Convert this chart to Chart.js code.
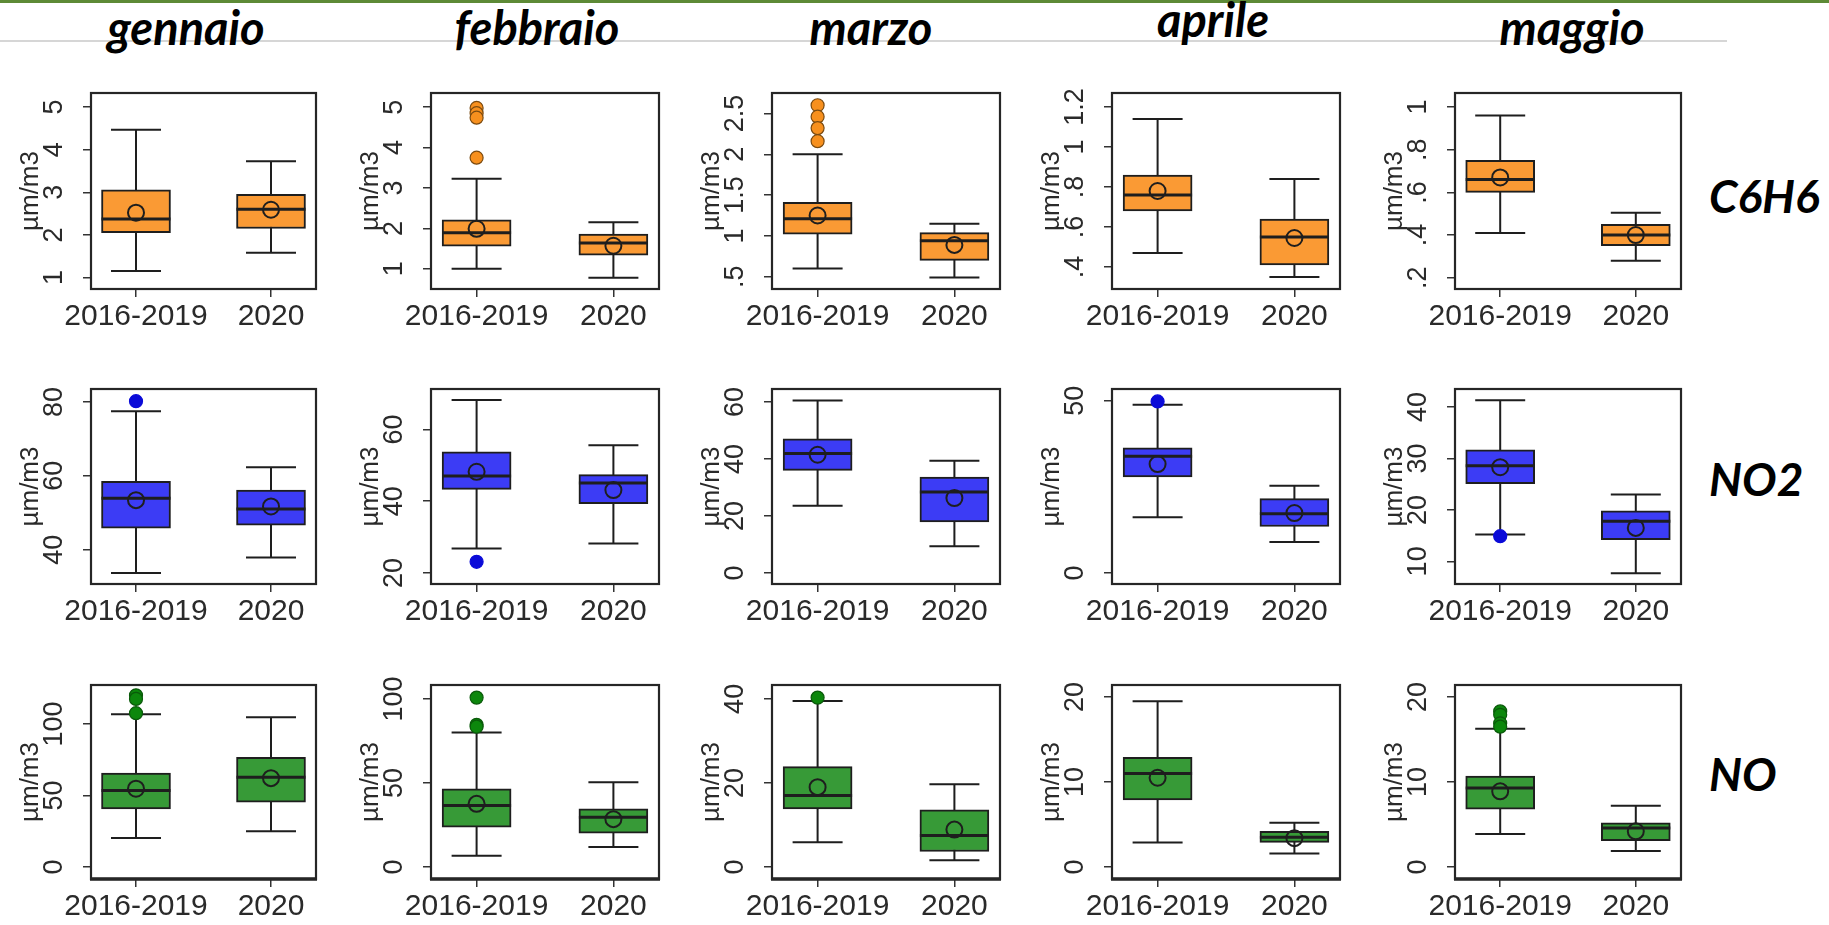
<!DOCTYPE html>
<html lang="it">
<head>
<meta charset="utf-8">
<title>C6H6, NO2, NO — gennaio-maggio: 2016-2019 vs 2020</title>
<script src="https://cdn.jsdelivr.net/npm/chart.js@4.4.1/dist/chart.umd.min.js"></script>
<style>
  html, body { margin: 0; padding: 0; background: #ffffff; overflow: hidden; }
  #page { position: relative; width: 1829px; height: 925px; background: #ffffff; }
  .topbar { position: absolute; left: 0; top: 0; width: 1829px; height: 3px; background: #5d8a36; }
  .rule { position: absolute; left: 0; top: 40px; width: 1727px; height: 2px; background: #d6d6d6; }
  .month, .species {
    position: absolute; font-family: "Lato", "Open Sans", sans-serif; font-weight: 700;
    font-style: italic; color: #000; white-space: nowrap; line-height: 1;
  }
  .month { font-size: 47px; transform: translateX(-50%); }
  .species { font-size: 46px; }
  canvas.panel { position: absolute; }
</style>
</head>
<body>
<div id="page">
  <div class="topbar"></div>
  <div class="rule"></div>
</div>
<script>
// ---- categories ----
const months = ['gennaio', 'febbraio', 'marzo', 'aprile', 'maggio'];
const groups = ['2016-2019', '2020'];
const pollutants = ['C6H6', 'NO2', 'NO'];
const unitLabel = 'µm/m3';

// ---- C6H6: per month, [2016-2019, 2020] ----
const c6h6Low    = [[1.15, 1.58], [1.00, 0.78], [0.60, 0.49], [0.47, 0.35], [0.41, 0.28]];
const c6h6Q1     = [[2.05, 2.15], [1.56, 1.34], [1.02, 0.70], [0.68, 0.41], [0.60, 0.35]];
const c6h6Median = [[2.37, 2.60], [1.89, 1.64], [1.21, 0.94], [0.76, 0.55], [0.66, 0.40]];
const c6h6Q3     = [[3.06, 2.95], [2.21, 1.86], [1.41, 1.04], [0.86, 0.64], [0.75, 0.45]];
const c6h6High   = [[4.47, 3.73], [3.23, 2.15], [2.00, 1.15], [1.14, 0.84], [0.96, 0.505]];
const c6h6Mean   = [[2.52, 2.59], [1.99, 1.57], [1.25, 0.89], [0.78, 0.545], [0.67, 0.40]];
const c6h6Outliers = [[[], []], [[4.98, 4.85, 4.74, 3.75], []], [[2.60, 2.46, 2.32, 2.16], []], [[], []], [[], []]];
const c6h6YRange = [[0.73, 5.33], [0.50, 5.35], [0.35, 2.75], [0.29, 1.27], [0.147, 1.066]];
const c6h6Ticks = [[1, 2, 3, 4, 5], [1, 2, 3, 4, 5], [0.5, 1, 1.5, 2, 2.5], [0.4, 0.6, 0.8, 1, 1.2], [0.2, 0.4, 0.6, 0.8, 1]];
const c6h6TickLabels = [['1', '2', '3', '4', '5'], ['1', '2', '3', '4', '5'], ['.5', '1', '1.5', '2', '2.5'], ['.4', '.6', '.8', '1', '1.2'], ['.2', '.4', '.6', '.8', '1']];

// ---- NO2 ----
const no2Low    = [[33.7, 37.9], [26.8, 28.2], [23.6, 9.4], [16.2, 9.0], [15.2, 7.7]];
const no2Q1     = [[45.8, 46.6], [43.3, 39.3], [36.0, 17.9], [27.9, 13.5], [25.1, 14.2]];
const no2Median = [[53.9, 51.0], [47.0, 45.1], [41.9, 28.4], [33.9, 17.2], [28.6, 17.8]];
const no2Q3     = [[58.5, 56.1], [53.8, 47.4], [47.1, 33.7], [36.3, 21.6], [31.7, 19.8]];
const no2High   = [[77.5, 62.3], [68.2, 55.6], [60.6, 39.4], [48.8, 25.3], [41.3, 23.0]];
const no2Mean   = [[53.4, 51.7], [48.2, 43.1], [41.5, 26.3], [31.6, 17.4], [28.3, 16.5]];
const no2Outliers = [[[80.2], []], [[23.1], []], [[], []], [[49.8], []], [[14.9], []]];
const no2YRange = [[30.7, 83.5], [16.9, 71.3], [-3.9, 64.6], [-3.2, 53.4], [5.6, 43.5]];
const no2Ticks = [[40, 60, 80], [20, 40, 60], [0, 20, 40, 60], [0, 50], [10, 20, 30, 40]];
const no2TickLabels = [['40', '60', '80'], ['20', '40', '60'], ['0', '20', '40', '60'], ['0', '50'], ['10', '20', '30', '40']];

// ---- NO ----
const noLow    = [[20.2, 24.9], [6.7, 11.9], [5.9, 1.6], [2.9, 1.6], [3.9, 1.9]];
const noQ1     = [[40.5, 45.3], [23.8, 20.2], [13.8, 3.7], [7.9, 2.9], [6.8, 3.1]];
const noMedian = [[53.5, 62.8], [36.6, 29.7], [17.0, 7.5], [11.0, 3.5], [9.3, 4.6]];
const noQ3     = [[65.6, 76.7], [46.5, 34.7], [23.9, 13.6], [12.9, 4.2], [10.7, 5.2]];
const noHigh   = [[106.7, 104.7], [80.0, 50.5], [39.5, 19.7], [19.5, 5.2], [16.25, 7.2]];
const noMean   = [[54.7, 62.1], [37.6, 28.5], [19.0, 8.9], [10.5, 3.4], [8.9, 4.2]];
const noOutliers = [[[120.0, 117.5, 107.5], []], [[100.8, 84.6, 83.5], []], [[40.3], []], [[], []], [[18.3, 17.9, 16.9, 16.5], []]];
const noYRange = [[-8.4, 127.2], [-7.1, 108.3], [-2.85, 43.3], [-1.4, 21.4], [-1.4, 21.4]];
const noTicks = [[0, 50, 100], [0, 50, 100], [0, 20, 40], [0, 10, 20], [0, 10, 20]];
const noTickLabels = [['0', '50', '100'], ['0', '50', '100'], ['0', '20', '40'], ['0', '10', '20'], ['0', '10', '20']];

// lookup used to build each panel
const series = {
  C6H6: { low: c6h6Low, q1: c6h6Q1, median: c6h6Median, q3: c6h6Q3, high: c6h6High, mean: c6h6Mean,
          outliers: c6h6Outliers, range: c6h6YRange, ticks: c6h6Ticks, tickLabels: c6h6TickLabels },
  NO2:  { low: no2Low, q1: no2Q1, median: no2Median, q3: no2Q3, high: no2High, mean: no2Mean,
          outliers: no2Outliers, range: no2YRange, ticks: no2Ticks, tickLabels: no2TickLabels },
  NO:   { low: noLow, q1: noQ1, median: noMedian, q3: noQ3, high: noHigh, mean: noMean,
          outliers: noOutliers, range: noYRange, ticks: noTicks, tickLabels: noTickLabels }
};

// ---- look ----
const palette = {
  C6H6: { box: '#fa9a34', dot: '#f7901e', dotEdge: '#7a4a10' },
  NO2:  { box: '#3c3cf5', dot: '#0b0bd8', dotEdge: '#0b0bd8' },
  NO:   { box: '#379a37', dot: '#0c870c', dotEdge: '#0a5a0a' }
};
const ink = '#1e1e1e';
const textInk = '#2a2a2a';
const sansFamily = '"Liberation Sans", Arial, Helvetica, sans-serif';

// ---- layout (plot frame of each panel) ----
const colLeft = [91, 431, 772, 1112, 1455];
const colWidth = [225, 228, 228, 228, 226];
const rowTop = [93, 389, 685];
const rowHeight = [196, 195, 194];
const yAxisBand = 90, xAxisBand = 44, padTop = 12, padRight = 12;

const monthPos = [[186, 4], [537, 4], [871, 4], [1213, -4], [1572, 4]];
const speciesPos = [[1709, 173], [1709, 456], [1709, 751]];

const page = document.getElementById('page');
months.forEach((m, i) => {
  const d = document.createElement('div');
  d.className = 'month';
  d.textContent = m;
  d.style.left = monthPos[i][0] + 'px';
  d.style.top = monthPos[i][1] + 'px';
  page.appendChild(d);
});
pollutants.forEach((p, i) => {
  const d = document.createElement('div');
  d.className = 'species';
  d.textContent = p;
  d.style.left = speciesPos[i][0] + 'px';
  d.style.top = speciesPos[i][1] + 'px';
  page.appendChild(d);
});

// whiskers, medians, frame and rotated y labels for one panel
function boxPlotPlugin(s, m, frameBottom) {
  return {
    id: 'boxPlot',
    beforeDatasetsDraw(chart) {
      const { ctx } = chart;
      const xs = chart.scales.x, ys = chart.scales.y;
      ctx.save();
      ctx.strokeStyle = ink;
      ctx.lineWidth = 2;
      s.low[m].forEach((lo, i) => {
        const px = xs.getPixelForValue(i + 1);
        const yLo = ys.getPixelForValue(lo);
        const yHi = ys.getPixelForValue(s.high[m][i]);
        const half = 25;
        ctx.beginPath();
        ctx.moveTo(px, yLo); ctx.lineTo(px, yHi);
        ctx.moveTo(px - half, yLo); ctx.lineTo(px + half, yLo);
        ctx.moveTo(px - half, yHi); ctx.lineTo(px + half, yHi);
        ctx.stroke();
      });
      ctx.restore();
    },
    afterDatasetDraw(chart, args) {
      if (args.index !== 0) return;
      const { ctx } = chart;
      const ys = chart.scales.y;
      const meta = chart.getDatasetMeta(0);
      ctx.save();
      ctx.strokeStyle = ink;
      ctx.lineWidth = 3;
      meta.data.forEach((bar, i) => {
        const y = ys.getPixelForValue(s.median[m][i]);
        ctx.beginPath();
        ctx.moveTo(bar.x - bar.width / 2, y);
        ctx.lineTo(bar.x + bar.width / 2, y);
        ctx.stroke();
      });
      ctx.restore();
    },
    afterDraw(chart) {
      const { ctx, chartArea: a } = chart;
      const ys = chart.scales.y;
      ctx.save();
      ctx.strokeStyle = '#262626';
      ctx.lineWidth = 2.2;
      ctx.strokeRect(a.left, a.top, a.right - a.left, a.bottom - a.top);
      if (frameBottom > 2.2) {
        ctx.lineWidth = frameBottom;
        ctx.beginPath();
        ctx.moveTo(a.left - 1, a.bottom); ctx.lineTo(a.right + 1, a.bottom);
        ctx.stroke();
      }
      ctx.fillStyle = textInk;
      ctx.textAlign = 'center';
      ctx.textBaseline = 'middle';
      ctx.font = '27px ' + sansFamily;
      ys.ticks.forEach((t, i) => {
        ctx.save();
        ctx.translate(a.left - 36, ys.getPixelForValue(t.value));
        ctx.rotate(-Math.PI / 2);
        ctx.fillText(s.tickLabels[m][i], 0, 0);
        ctx.restore();
      });
      ctx.font = '26px ' + sansFamily;
      ctx.translate(a.left - 60, (a.top + a.bottom) / 2);
      ctx.rotate(-Math.PI / 2);
      ctx.fillText(unitLabel, 0, 0);
      ctx.restore();
    }
  };
}

pollutants.forEach((p, r) => {
  const s = series[p];
  const col = palette[p];
  months.forEach((month, m) => {
    const cv = document.createElement('canvas');
    cv.className = 'panel';
    const w = yAxisBand + colWidth[m] + padRight;
    const h = padTop + rowHeight[r] + xAxisBand;
    cv.width = w; cv.height = h;
    cv.style.width = w + 'px'; cv.style.height = h + 'px';
    cv.style.left = (colLeft[m] - yAxisBand) + 'px';
    cv.style.top = (rowTop[r] - padTop) + 'px';
    page.appendChild(cv);

    const boxes = groups.map((g, i) => ({ x: i + 1, y: [s.q1[m][i], s.q3[m][i]] }));
    const means = groups.map((g, i) => ({ x: i + 1, y: s.mean[m][i] }));
    const outs = [];
    groups.forEach((g, i) => s.outliers[m][i].forEach(v => outs.push({ x: i + 1, y: v })));

    new Chart(cv, {
      type: 'bar',
      data: {
        datasets: [
          { type: 'bar', data: boxes, backgroundColor: col.box, borderColor: ink, borderWidth: 2,
            borderSkipped: false, barThickness: 69, order: 3 },
          { type: 'scatter', data: outs, pointRadius: 6.5, pointBackgroundColor: col.dot,
            pointBorderColor: col.dotEdge, pointBorderWidth: 1.2, order: 2 },
          { type: 'scatter', data: means, pointRadius: 8, pointBackgroundColor: 'rgba(0,0,0,0)',
            pointBorderColor: ink, pointBorderWidth: 2, order: 1 }
        ]
      },
      options: {
        responsive: false,
        animation: false,
        devicePixelRatio: 1,
        layout: { padding: { top: padTop, right: padRight, left: 0, bottom: 0 } },
        plugins: { legend: { display: false }, tooltip: { enabled: false } },
        events: [],
        scales: {
          x: {
            type: 'linear', min: 2 / 3, max: 7 / 3, offset: false,
            afterBuildTicks: sc => { sc.ticks = groups.map((g, i) => ({ value: i + 1 })); },
            afterFit: sc => { sc.height = xAxisBand; },
            grid: { offset: false, drawOnChartArea: false, drawTicks: true, tickLength: 8, color: '#333', lineWidth: 1.5 },
            border: { display: false },
            ticks: {
              autoSkip: false, maxRotation: 0, minRotation: 0, padding: 2, color: textInk,
              font: { family: sansFamily, size: 30, lineHeight: 1.2 },
              callback: v => groups[Math.round(v) - 1] || ''
            }
          },
          y: {
            type: 'linear', min: s.range[m][0], max: s.range[m][1],
            afterBuildTicks: sc => { sc.ticks = s.ticks[m].map(v => ({ value: v })); },
            afterFit: sc => { sc.width = yAxisBand; },
            grid: { drawOnChartArea: false, drawTicks: true, tickLength: 8, color: '#333', lineWidth: 1.5 },
            border: { display: false },
            ticks: { display: false }
          }
        }
      },
      plugins: [boxPlotPlugin(s, m, r === 2 ? 3.5 : 2.2)]
    });
  });
});
</script>
</body>
</html>
